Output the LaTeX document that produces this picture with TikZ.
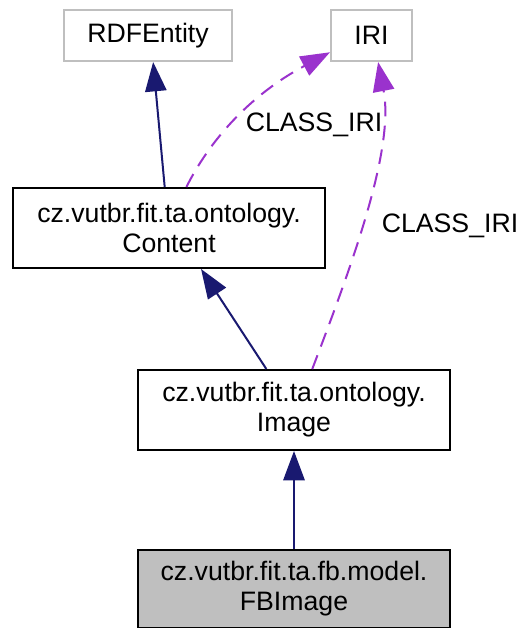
\documentclass[tikz,border=0pt]{standalone}
\usepackage{fontspec}
\setmainfont{Liberation Sans}
\usepackage{xcolor}
\usetikzlibrary{arrows.meta}
\definecolor{edgeblue}{HTML}{191970}
\definecolor{edgepurple}{HTML}{9A32CD}
\definecolor{boxgray}{HTML}{BFBFBF}

\begin{document}
\begin{tikzpicture}[x=0.75pt, y=-0.75pt,
  class node/.style={draw, line width=1.5pt, minimum width=234pt, minimum height=60pt, inner sep=0pt, align=center, font=\fontsize{20}{22.5}\selectfont},
  ext node/.style={draw=boxgray, line width=1.5pt, minimum height=38.25pt, inner sep=0pt, font=\fontsize{20}{22.5}\selectfont},
  label node/.style={inner sep=0pt, font=\fontsize{20}{22.5}\selectfont},
  inherit/.style={-{Triangle[length=22pt,width=16pt]}, edgeblue, line width=1.5pt},
  usage/.style={-{Triangle[length=22pt,width=16pt]}, edgepurple, line width=1.5pt, dash pattern=on 11pt off 7pt}]
\useasboundingbox (0,0) rectangle (522,628);
\node[ext node, minimum width=126pt] (1) at (148,35.5) {RDFEntity};
\node[ext node, minimum width=60.75pt] (2) at (371.5,35.5) {IRI};
\node[class node] (3) at (169,228) {cz.vutbr.fit.ta.ontology.\\Content};
\node[class node] (4) at (294,410) {cz.vutbr.fit.ta.ontology.\\Image};
\node[class node, fill=boxgray, minimum height=58.5pt] (5) at (294,589) {cz.vutbr.fit.ta.fb.model.\\FBImage};
\node[label node] (6) at (314,125) {CLASS\_IRI};
\node[label node] (7) at (450,226) {CLASS\_IRI};
\path[inherit]
(3.96) edge (1.281)
(4.124) edge (3.308)
(5.north) edge (4.south);
\draw[usage] (3.67) .. controls (210,140) and (250,95) .. (2.202);
\draw[usage] (4.66) .. controls (350,270) and (395,150) .. (2.284);
\end{tikzpicture}
\end{document}
